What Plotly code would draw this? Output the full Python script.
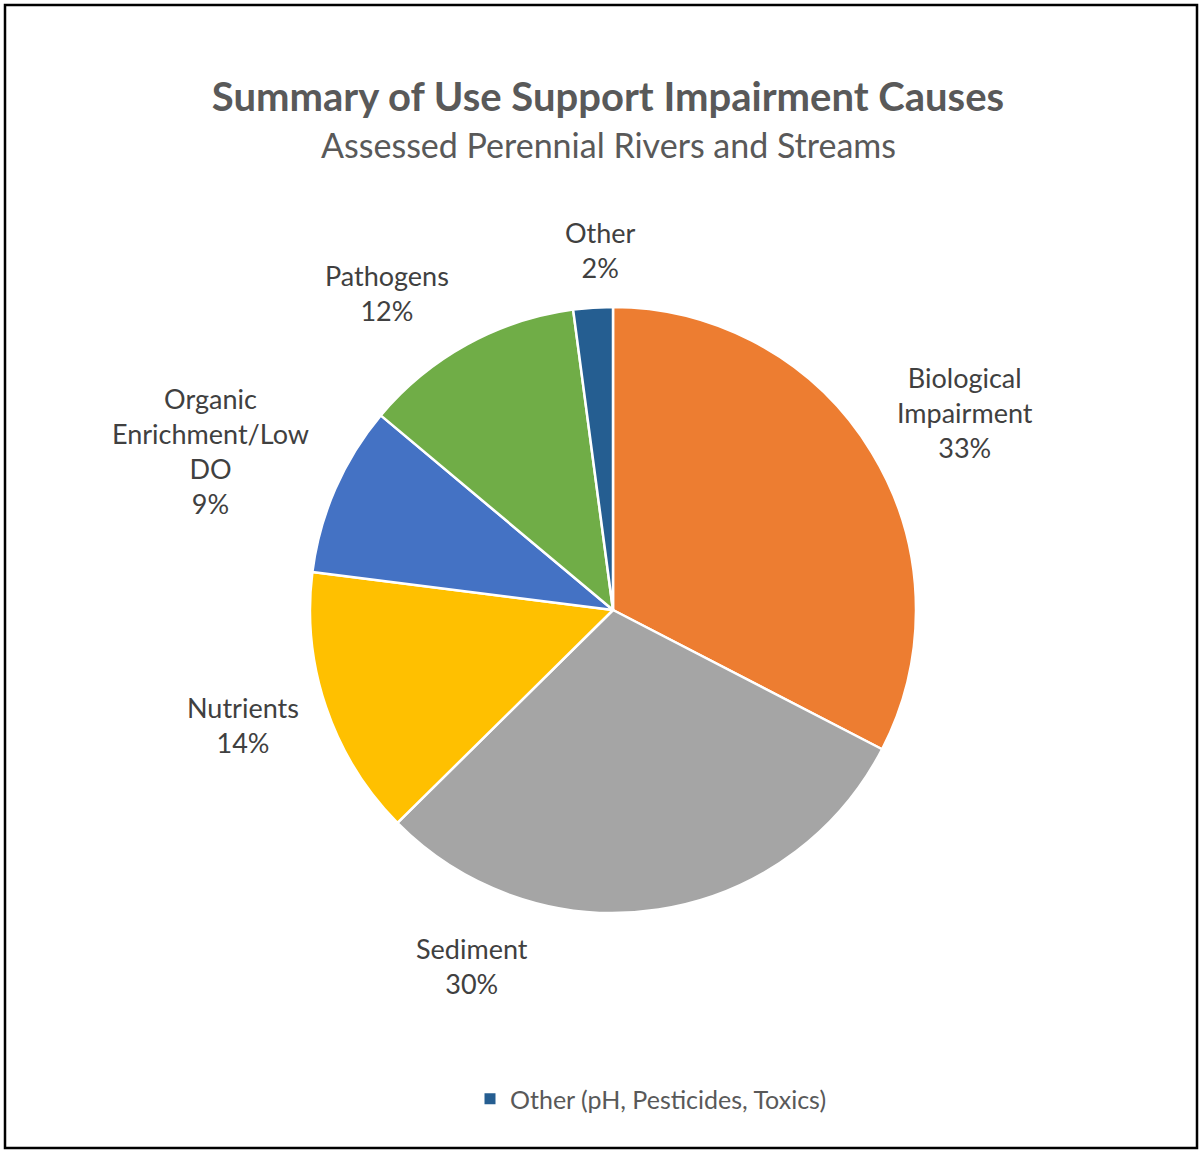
import plotly.graph_objects as go

categories = ["Biological Impairment", "Sediment", "Nutrients",
              "Organic Enrichment/Low DO", "Pathogens", "Other"]
display_labels = ["Biological<br>Impairment", "Sediment", "Nutrients",
                  "Organic<br>Enrichment/Low<br>DO", "Pathogens", "Other"]
values = [32.6, 30.0, 14.4, 9.1, 11.8, 2.1]
colors = ["#ED7D31", "#A5A5A5", "#FFC000", "#4472C4", "#70AD47", "#255E91"]
legend_name = "Other (pH, Pesticides, Toxics)"

W, H = 1199, 1150
cx, cy, r = 613, 610, 303
FONT = "Lato, Open Sans, sans-serif"

# data-label placement (page pixels, centre of each label block), as laid out in the original
label_xy = [(965, 412), (472, 966), (243, 725), (210, 451), (387, 293), (600, 250)]

total = sum(values)
annotations = []
for lab, v, (lx, ly) in zip(display_labels, values, label_xy):
    annotations.append(dict(
        text=f"{lab}<br>{round(100 * v / total)}%", xref="paper", yref="paper",
        x=lx / W, y=1 - ly / H, xanchor="center", yanchor="middle", align="center",
        showarrow=False, font=dict(size=27, color="#404040", family=FONT)))

annotations.append(dict(text="Assessed Perennial Rivers and Streams", xref="paper", yref="paper",
                        x=608 / W, y=1 - 144 / H, xanchor="center", yanchor="middle",
                        showarrow=False, font=dict(size=34, color="#595959", family=FONT)))

fig = go.Figure()
fig.add_trace(go.Pie(
    labels=categories, values=values,
    textinfo="none",
    marker=dict(colors=colors, line=dict(color="white", width=2.5)),
    sort=False, direction="clockwise", rotation=0,
    showlegend=False, automargin=False,
    domain=dict(x=[(cx - r) / W, (cx + r) / W], y=[1 - (cy + r) / H, 1 - (cy - r) / H]),
    hoverinfo="label+percent",
))
fig.add_trace(go.Scatter(
    x=[None], y=[None], mode="markers", name=legend_name,
    marker=dict(symbol="square", size=11, color=colors[-1]),
    showlegend=True,
))

fig.update_layout(
    width=W, height=H,
    margin=dict(l=0, r=0, t=0, b=0),
    paper_bgcolor="white", plot_bgcolor="white",
    xaxis=dict(visible=False), yaxis=dict(visible=False),
    font=dict(family=FONT, color="#595959"),
    title=dict(text="<b>Summary of Use Support Impairment Causes</b>",
               x=608 / W, xanchor="center", y=1 - 97 / H, yanchor="middle",
               font=dict(size=40, color="#595959", family=FONT)),
    annotations=annotations,
    legend=dict(orientation="h", x=651 / W, xanchor="center", y=1 - 1099 / H, yanchor="middle",
                font=dict(size=25, color="#595959"), itemwidth=30),
    shapes=[dict(type="rect", xref="paper", yref="paper",
                 x0=5 / W, x1=1197 / W, y0=1 - 1148 / H, y1=1 - 5 / H,
                 line=dict(color="black", width=2.5), fillcolor="rgba(0,0,0,0)")],
)

fig.write_html("out.html", config={"displayModeBar": False},
               post_script="document.body.style.margin='0';")
